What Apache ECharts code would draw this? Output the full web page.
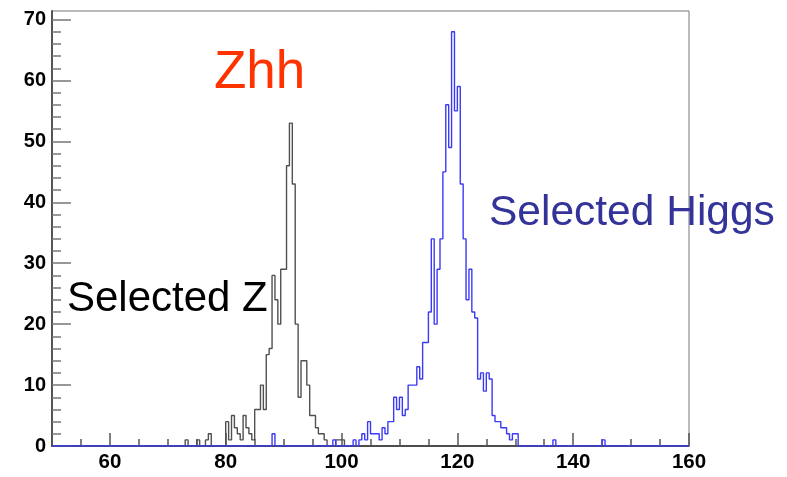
<!DOCTYPE html>
<html>
<head>
<meta charset="utf-8">
<script src="https://cdn.jsdelivr.net/npm/echarts@6/dist/echarts.min.js"></script>
<style>
  html, body { margin: 0; padding: 0; background: #fff; }
  #chart { width: 787px; height: 477px; }
</style>
</head>
<body>
<div id="chart"></div>
<script>
// Histogram binning (GeV)
const xMin = 50;
const xMax = 160;
const binWidth = 0.5;

// Reconstructed Z mass: counts per bin, starting at zFirstBin
const zFirstBin = 72.0;
const zCounts = [
  0, 0, 1, 0, 0, 0, 1, 0, 0, 1,     // 72.0 - 76.5
  2, 0, 0, 0, 0, 0, 4, 1, 5, 3,     // 77.0 - 81.5
  2, 1, 5, 3, 2, 1, 6, 6, 10, 6,    // 82.0 - 86.5
  15, 16, 28, 24, 20, 29, 29, 46, 53, 43, // 87.0 - 91.5
  20, 8, 14, 14, 10, 5, 5, 3, 2, 2, // 92.0 - 96.5
  1, 0, 0, 0, 1, 1, 1               // 97.0 - 100.0
];

// Reconstructed Higgs mass: counts per bin, starting at hFirstBin
const hFirstBin = 98.0;
const hCounts = [
  0, 1, 0, 0, 0, 0, 0, 0, 1, 0,      // 98.0 - 102.5
  1, 2, 1, 4, 2, 2, 2, 1, 3, 2,      // 103.0 - 107.5
  4, 4, 8, 6, 8, 5, 6, 10, 10, 10,   // 108.0 - 112.5
  13, 11, 17, 17, 22, 34, 20, 29, 34, 45, // 113.0 - 117.5
  56, 49, 68, 55, 59, 43, 34, 24, 29, 22, // 118.0 - 122.5
  21, 11, 12, 9, 12, 11, 5, 4, 4, 3, // 123.0 - 127.5
  3, 2, 1, 2, 2                      // 128.0 - 130.0
];
// Isolated Higgs-candidate entries outside the main peak
const hIsolatedBins = [88.0, 136.5, 145.0];
const hIsolatedCounts = [2, 1, 1];

// Axis ticks
const xMajorTicks = [60, 80, 100, 120, 140, 160];
const xMinorTicks = [55, 65, 70, 75, 85, 90, 95, 105, 110, 115, 125, 130, 135, 145, 150, 155];
const yMajorTicks = [0, 10, 20, 30, 40, 50, 60, 70];
const yMinorTicks = [];
for (let v = 2; v < 70; v += 2) if (v % 10 !== 0) yMinorTicks.push(v);
const yMax = 71.4;

// Fill a full-range histogram, then turn it into step-line points
function buildHistogram(firstBin, counts, extraBins, extraCounts) {
  const nBins = Math.round((xMax - xMin) / binWidth);
  const full = new Array(nBins).fill(0);
  counts.forEach((c, i) => {
    const idx = Math.round((firstBin - xMin) / binWidth) + i;
    if (idx >= 0 && idx < nBins) full[idx] = c;
  });
  (extraBins || []).forEach((b, i) => {
    full[Math.round((b - xMin) / binWidth)] = extraCounts[i];
  });
  const pts = full.map((c, i) => [xMin + i * binWidth, c]);
  pts.push([xMax, 0]);
  return pts;
}

const zData = buildHistogram(zFirstBin, zCounts);
const hData = buildHistogram(hFirstBin, hCounts, hIsolatedBins, hIsolatedCounts);

const chart = echarts.init(document.getElementById('chart'), null, { renderer: 'canvas' });

const labelFont = { fontFamily: 'Liberation Sans, Arial, sans-serif', fontWeight: 'bold', color: '#000' };

chart.setOption({
  animation: false,
  backgroundColor: '#fff',
  grid: {
    left: 52, right: 98, top: 11, bottom: 31,
    show: true, borderColor: '#777', borderWidth: 1, backgroundColor: 'transparent'
  },
  xAxis: [
    {
      type: 'value', min: xMin, max: xMax, position: 'bottom',
      axisLine: { show: true, onZero: false, lineStyle: { color: '#222', width: 1.5 } },
      axisTick: { show: true, inside: true, length: 13, customValues: xMajorTicks, lineStyle: { color: '#555', width: 1.5 } },
      axisLabel: { show: true, customValues: xMajorTicks, margin: 6, fontSize: 20.5, ...labelFont },
      splitLine: { show: false }
    },
    {
      type: 'value', min: xMin, max: xMax, position: 'bottom', offset: 0,
      axisLine: { show: false },
      axisTick: { show: true, inside: true, length: 7, customValues: xMinorTicks, lineStyle: { color: '#555', width: 1.5 } },
      axisLabel: { show: false },
      splitLine: { show: false }
    }
  ],
  yAxis: [
    {
      type: 'value', min: 0, max: yMax, position: 'left',
      axisLine: { show: true, onZero: false, lineStyle: { color: '#555', width: 2 } },
      axisTick: { show: true, inside: true, length: 19, customValues: yMajorTicks, lineStyle: { color: '#777', width: 1.5 } },
      axisLabel: { show: true, customValues: yMajorTicks, margin: 6, fontSize: 20, ...labelFont },
      splitLine: { show: false }
    },
    {
      type: 'value', min: 0, max: yMax, position: 'left', offset: 0,
      axisLine: { show: false },
      axisTick: { show: true, inside: true, length: 9, customValues: yMinorTicks, lineStyle: { color: '#777', width: 1.5 } },
      axisLabel: { show: false },
      splitLine: { show: false }
    }
  ],
  series: [
    {
      name: 'Selected Z', type: 'line', step: 'end', data: zData,
      xAxisIndex: 0, yAxisIndex: 0, symbol: 'none',
      lineStyle: { color: '#505050', width: 1.4 }
    },
    {
      name: 'Selected Higgs', type: 'line', step: 'end', data: hData,
      xAxisIndex: 0, yAxisIndex: 0, symbol: 'none',
      lineStyle: { color: '#3a3af5', width: 1.4 }
    }
  ],
  graphic: [
    { type: 'text', left: 214, top: 47, style: { text: 'Zhh', fill: '#ff3300', font: '53px "Liberation Sans", Arial, sans-serif' } },
    { type: 'text', left: 489, top: 192, style: { text: 'Selected Higgs', fill: '#333399', font: '42.5px "Liberation Sans", Arial, sans-serif' } },
    { type: 'text', left: 67, top: 278, style: { text: 'Selected Z', fill: '#000', font: '42px "Liberation Sans", Arial, sans-serif' } }
  ]
});
</script>
</body>
</html>
